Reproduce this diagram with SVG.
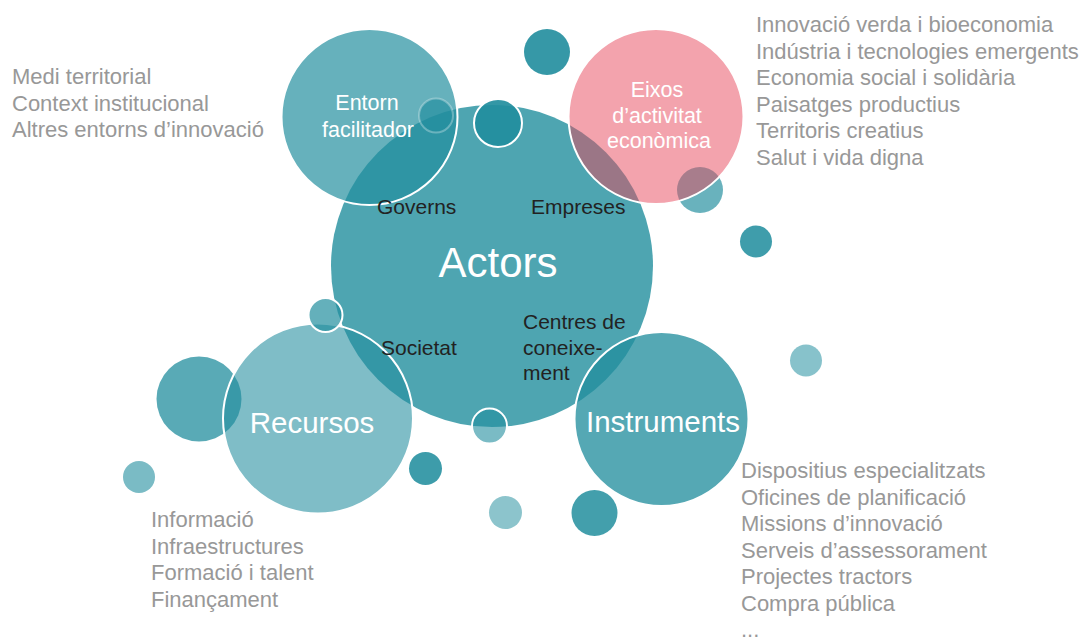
<svg xmlns="http://www.w3.org/2000/svg" width="1085" height="640" viewBox="0 0 1085 640">
<style>
  text { font-family: "Liberation Sans", Arial, Helvetica, sans-serif; }
  .b { fill: #228e9e; }
  .p { fill: #e7475b; fill-opacity: 0.5; }
  .st { stroke: #ffffff; stroke-width: 2; }
  .lbl { font-size: 21.5px; fill: #ffffff; text-anchor: middle; }
  .big { font-size: 29.5px; fill: #ffffff; text-anchor: middle; }
  .act { font-size: 42px; fill: #ffffff; text-anchor: middle; }
  .blk { font-size: 21px; fill: #222222; }
  .lst { font-size: 22px; fill: #989898; }
</style>
<rect width="1085" height="640" fill="#ffffff"/>
<g id="bubbles">
  <circle id="b-left" class="b" cx="199" cy="399" r="42.5" fill-opacity="0.75"/>
</g>
<g id="actors">
  <circle class="b" cx="492" cy="266" r="161" fill-opacity="0.8"/>
</g>
<g id="entorn">
  <circle class="b st" cx="369.5" cy="117" r="88" fill-opacity="0.69"/>
</g>
<g id="bubbles-top">
  <circle class="b" cx="436" cy="115.5" r="17" fill-opacity="0.65" stroke="#ffffff" stroke-opacity="0.3" stroke-width="2"/>
  <circle class="b st" cx="498" cy="123" r="24" fill-opacity="0.92"/>
  <circle class="b" cx="547" cy="52" r="23" fill-opacity="0.91"/>
  <circle class="b" cx="700" cy="190" r="23" fill-opacity="0.68"/>
</g>
<g id="eixos">
  <circle class="p st" cx="656" cy="116.5" r="87.5"/>
</g>
<g id="bubbles-right">
  <circle class="b" cx="756" cy="241.5" r="16" fill-opacity="0.87"/>
  <circle class="b" cx="806" cy="360.5" r="16" fill-opacity="0.54"/>
</g>
<g id="recursos">
  <circle class="b st" cx="318" cy="418.5" r="95" fill-opacity="0.58"/>
</g>
<g id="bubble-mid">
  <circle class="b st" cx="325.5" cy="315" r="17" fill-opacity="0.7"/>
</g>
<g id="instruments">
  <circle class="b st" cx="661.5" cy="419" r="87" fill-opacity="0.77"/>
</g>
<g id="bubbles-bottom">
  <circle class="b st" cx="489.5" cy="426" r="17.5" fill-opacity="0.6"/>
  <circle class="b" cx="139" cy="477" r="16" fill-opacity="0.6"/>
  <circle class="b" cx="425.5" cy="468.5" r="16.5" fill-opacity="0.88"/>
  <circle class="b" cx="505.5" cy="512.5" r="16.5" fill-opacity="0.52"/>
  <circle class="b" cx="594.5" cy="513" r="23" fill-opacity="0.85"/>
</g>
<g id="connectors"></g>
<g id="labels">
  <text class="lbl" x="367" y="110">Entorn</text>
  <text class="lbl" x="368" y="137">facilitador</text>
  <text class="lbl" x="657" y="97">Eixos</text>
  <text class="lbl" x="657" y="122.5">d’activitat</text>
  <text class="lbl" x="659" y="148">econòmica</text>
  <text class="act" x="498" y="277">Actors</text>
  <text class="big" x="312" y="433">Recursos</text>
  <text class="big" x="663" y="432">Instruments</text>
  <text class="blk" x="377" y="214">Governs</text>
  <text class="blk" x="531" y="214">Empreses</text>
  <text class="blk" x="381" y="355">Societat</text>
  <text class="blk" x="523" y="329">Centres de</text>
  <text class="blk" x="523" y="354.5">coneixe-</text>
  <text class="blk" x="523" y="380">ment</text>
</g>
<g id="list-entorn">
  <text class="lst" x="12" y="84">Medi territorial</text>
  <text class="lst" x="12" y="110.5">Context institucional</text>
  <text class="lst" x="12" y="137">Altres entorns d’innovació</text>
</g>
<g id="list-eixos">
  <text class="lst" x="756" y="32">Innovació verda i bioeconomia</text>
  <text class="lst" x="756" y="58.5">Indústria i tecnologies emergents</text>
  <text class="lst" x="756" y="85">Economia social i solidària</text>
  <text class="lst" x="756" y="111.5">Paisatges productius</text>
  <text class="lst" x="756" y="138">Territoris creatius</text>
  <text class="lst" x="756" y="164.5">Salut i vida digna</text>
</g>
<g id="list-recursos">
  <text class="lst" x="151" y="527">Informació</text>
  <text class="lst" x="151" y="553.5">Infraestructures</text>
  <text class="lst" x="151" y="580">Formació i talent</text>
  <text class="lst" x="151" y="606.5">Finançament</text>
</g>
<g id="list-instruments">
  <text class="lst" x="741" y="478">Dispositius especialitzats</text>
  <text class="lst" x="741" y="504.5">Oficines de planificació</text>
  <text class="lst" x="741" y="531">Missions d’innovació</text>
  <text class="lst" x="741" y="557.5">Serveis d’assessorament</text>
  <text class="lst" x="741" y="584">Projectes tractors</text>
  <text class="lst" x="741" y="610.5">Compra pública</text>
  <text class="lst" x="741" y="637">...</text>
</g>
</svg>
